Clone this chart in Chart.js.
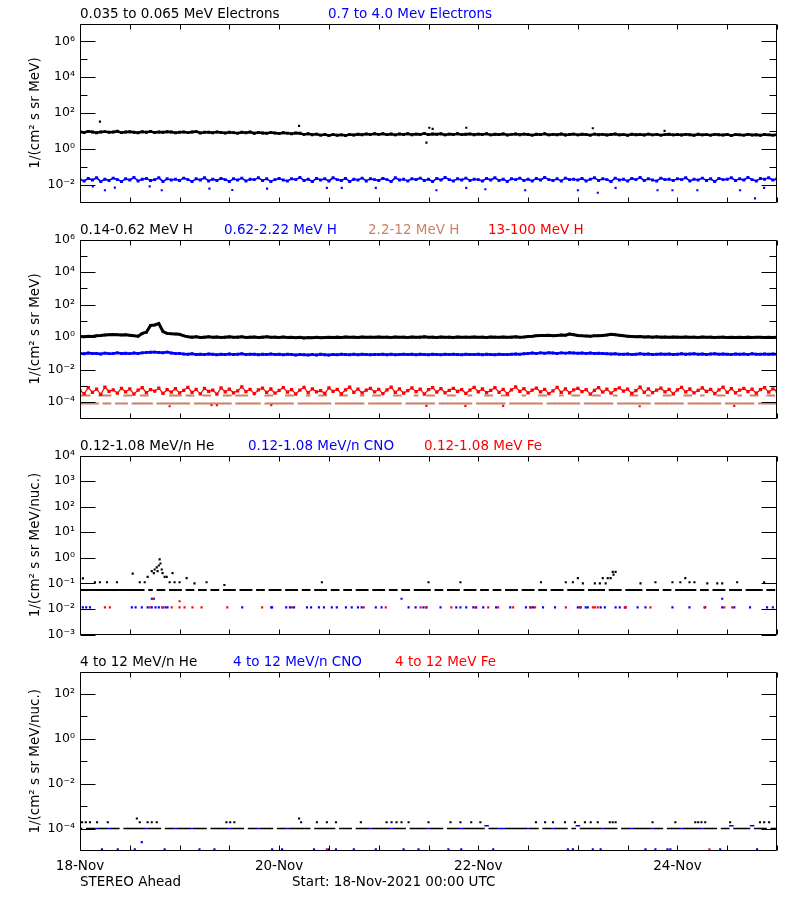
<!DOCTYPE html>
<html><head><meta charset="utf-8">
<script src="https://cdn.jsdelivr.net/npm/chart.js@4.4.0/dist/chart.umd.min.js"></script>
<style>
html,body{margin:0;padding:0;background:#fff;}
body{width:800px;height:900px;position:relative;overflow:hidden;font-family:"DejaVu Sans",sans-serif;}
canvas{position:absolute;left:0;}
.t{position:absolute;font-size:13.5px;line-height:16px;white-space:pre;color:#000;}
</style></head><body>
<canvas id="c1" width="800" height="204" style="top:11px"></canvas>
<canvas id="c2" width="800" height="204" style="top:227px"></canvas>
<canvas id="c3" width="800" height="204" style="top:443px"></canvas>
<canvas id="c4" width="800" height="222" style="top:659px"></canvas>

<div class="t" style="left:80px;top:5px">0.035 to 0.065 MeV Electrons</div>
<div class="t" style="left:328px;top:5px;color:#0000ff">0.7 to 4.0 Mev Electrons</div>
<div class="t" style="left:80px;top:221px">0.14-0.62 MeV H</div>
<div class="t" style="left:224px;top:221px;color:#0000ff">0.62-2.22 MeV H</div>
<div class="t" style="left:368px;top:221px;color:#cc8268">2.2-12 MeV H</div>
<div class="t" style="left:488px;top:221px;color:#ff0000">13-100 MeV H</div>
<div class="t" style="left:80px;top:437px">0.12-1.08 MeV/n He</div>
<div class="t" style="left:248px;top:437px;color:#0000ff">0.12-1.08 MeV/n CNO</div>
<div class="t" style="left:424px;top:437px;color:#ff0000">0.12-1.08 MeV Fe</div>
<div class="t" style="left:80px;top:653px">4 to 12 MeV/n He</div>
<div class="t" style="left:233px;top:653px;color:#0000ff">4 to 12 MeV/n CNO</div>
<div class="t" style="left:395px;top:653px;color:#ff0000">4 to 12 MeV Fe</div>
<div class="t" style="left:80px;top:873px">STEREO Ahead</div>
<div class="t" style="left:292px;top:873px">Start: 18-Nov-2021 00:00 UTC</div>

<script>
const n = null;
// x axis: hours since 18-Nov-2021 00:00 UTC
const xTickHours = [0, 48, 96, 144];
const xTickLabels = ['18-Nov', '20-Nov', '22-Nov', '24-Nov'];

// ---------- Panel 1: electrons (hourly, h = 0..168) ----------
const elecLow = [
8.9,8.2,9.4,8.6,7.9,8.8,9.1,8.3,8.7,9.5,8.0,8.6,9.0,8.4,7.8,8.9,8.5,9.2,8.1,8.7,8.3,9.0,8.6,7.9,
8.4,8.8,8.0,8.6,9.1,7.7,8.3,8.5,7.9,8.8,8.2,7.6,8.4,8.0,7.5,8.3,7.8,8.6,7.4,8.1,7.7,7.3,8.2,7.6,
7.2,7.9,7.5,6.9,7.7,7.3,6.4,6.9,6.1,6.6,5.8,6.3,5.6,6.2,5.7,6.0,5.5,6.3,5.9,6.5,6.1,6.8,6.3,6.9,
6.4,7.0,6.2,6.7,6.0,6.8,6.3,6.9,6.1,6.6,6.4,7.1,6.2,6.7,6.5,6.9,6.0,6.6,6.3,7.0,6.2,6.5,6.8,6.1,
6.6,6.3,6.9,6.0,6.5,6.2,6.8,5.9,6.4,6.7,6.1,6.6,6.3,5.8,6.5,6.2,6.9,6.0,6.4,6.1,6.7,5.9,6.3,6.6,
6.0,6.5,6.2,5.8,6.6,6.1,6.4,5.9,6.3,6.7,6.0,6.2,5.7,6.5,6.1,6.3,5.9,6.6,6.0,6.4,5.8,6.2,6.5,6.0,
6.3,5.9,6.4,6.1,5.7,6.5,6.0,6.2,5.8,6.4,6.1,5.9,6.3,5.6,6.2,6.0,5.8,6.4,5.9,6.1,5.7,6.3,6.0,5.8,6.2];
const elecLowOutHours = [4.8, 52.8, 83.5, 84.2, 85.0, 93.1, 123.6, 140.9];
const elecLowOutVals  = [33, 19, 2.2, 15, 13, 15, 14, 10];

const elecHigh = [
.019,.016,.022,.018,.024,.015,.020,.017,.023,.019,.015,.021,.018,.025,.016,.020,.022,.017,.019,.024,.015,.021,.018,.020,
.017,.023,.019,.015,.021,.018,.024,.016,.020,.017,.022,.019,.015,.021,.018,.023,.016,.020,.019,.024,.017,.021,.015,.019,
.022,.018,.016,.021,.019,.025,.017,.020,.015,.022,.018,.021,.016,.024,.019,.017,.022,.015,.020,.018,.023,.016,.021,.019,
.017,.022,.019,.015,.024,.018,.020,.016,.021,.019,.023,.017,.020,.015,.022,.018,.025,.019,.016,.021,.018,.023,.017,.020,
.019,.016,.022,.018,.024,.017,.020,.015,.021,.019,.023,.017,.020,.016,.022,.018,.025,.019,.017,.021,.016,.023,.019,.020,
.018,.022,.016,.020,.024,.017,.021,.019,.015,.023,.018,.020,.016,.022,.019,.025,.017,.021,.018,.016,.023,.019,.020,.017,
.021,.019,.024,.016,.020,.018,.023,.017,.021,.015,.022,.019,.020,.024,.017,.021,.018,.025,.019,.016,.022,.020,.024,.018,.021];
const elecHighOutHours = [3.1,6.0,8.4,16.8,19.7,31.2,36.7,45.1,59.5,63.1,71.3,85.9,93.1,97.7,107.3,120.0,124.8,129.1,139.2,142.8,148.8,159.1,162.7,164.9];
const elecHighOutVals  = [0.0079,0.0048,0.0068,0.0079,0.0048,0.006,0.005,0.006,0.0066,0.0066,0.0066,0.0048,0.0066,0.0055,0.0048,0.0048,0.0035,0.0066,0.0048,0.0048,0.0048,0.0048,0.0017,0.0066];

// ---------- Panel 2: protons ----------
const protLow = [
1.1,1.05,1.15,1.1,1.2,1.25,1.35,1.4,1.45,1.4,1.35,1.4,1.3,1.2,1.15,1.7,2.0,5.2,5.6,6.8,2.2,1.7,1.6,1.55,
1.5,1.2,1.05,1.0,1.05,0.95,1.0,1.05,0.98,1.02,0.95,1.0,1.04,0.97,1.0,1.05,0.96,1.0,1.03,0.95,1.0,1.06,0.98,1.0,
0.96,1.02,0.94,0.98,0.92,0.97,0.9,0.95,0.93,0.98,0.91,0.96,0.99,0.94,1.0,0.96,1.02,0.97,1.0,0.95,1.03,0.98,1.0,0.97,
1.02,0.98,1.0,0.96,1.03,0.99,1.0,0.95,1.02,0.98,1.0,1.04,0.97,1.0,0.96,1.02,0.99,1.0,0.95,1.03,0.98,1.0,0.97,1.02,
0.99,1.0,0.96,1.03,1.0,0.98,1.02,0.97,1.0,1.04,0.99,1.02,1.08,1.12,1.2,1.28,1.25,1.3,1.22,1.28,1.35,1.3,1.55,1.4,
1.25,1.2,1.18,1.15,1.2,1.22,1.28,1.35,1.5,1.42,1.3,1.2,1.15,1.1,1.05,1.08,1.02,1.05,1.0,1.04,1.0,1.03,0.98,1.02,
1.0,0.97,1.02,0.98,1.0,0.96,1.01,0.97,1.0,0.95,0.98,1.0,0.96,0.99,0.95,0.98,0.96,1.0,0.95,0.97,0.99,0.95,0.97,0.96,0.98];
const protMid = [
.10,.095,.105,.098,.10,.092,.104,.097,.10,.108,.099,.103,.097,.105,.10,.108,.112,.118,.12,.115,.11,.12,.105,.10,
.098,.092,.088,.094,.086,.09,.085,.093,.088,.084,.09,.087,.092,.085,.089,.094,.086,.09,.088,.083,.09,.087,.092,.086,
.088,.082,.09,.085,.08,.087,.083,.079,.086,.081,.088,.084,.08,.086,.082,.089,.085,.083,.088,.084,.09,.086,.083,.087,
.085,.09,.084,.088,.082,.087,.09,.085,.088,.083,.089,.086,.084,.09,.087,.083,.088,.085,.09,.086,.084,.089,.087,.085,
.088,.084,.09,.086,.083,.089,.087,.085,.09,.093,.088,.096,.1,.105,.098,.108,.103,.11,.105,.1,.108,.104,.11,.106,
.102,.107,.1,.105,.098,.103,.1,.096,.092,.095,.09,.088,.092,.087,.09,.094,.088,.091,.086,.09,.093,.088,.092,.087,
.09,.094,.088,.092,.095,.089,.093,.087,.091,.094,.088,.092,.09,.086,.093,.089,.091,.087,.094,.09,.088,.092,.089,.091,.088];
const protHigh = [
5.2e-4,3.4e-4,7.8e-4,4.1e-4,6.3e-4,3.0e-4,8.5e-4,4.6e-4,5.8e-4,3.6e-4,7.1e-4,4.4e-4,6.6e-4,3.2e-4,5.5e-4,8.0e-4,3.9e-4,6.0e-4,4.8e-4,7.4e-4,3.5e-4,5.9e-4,4.2e-4,6.8e-4,
3.7e-4,5.4e-4,8.3e-4,4.0e-4,6.1e-4,3.3e-4,7.0e-4,4.7e-4,5.6e-4,3.1e-4,7.7e-4,4.3e-4,6.4e-4,3.8e-4,5.0e-4,8.8e-4,4.5e-4,6.2e-4,3.4e-4,5.7e-4,7.3e-4,4.0e-4,6.5e-4,3.6e-4,
5.3e-4,7.9e-4,4.2e-4,6.0e-4,3.2e-4,5.6e-4,8.1e-4,3.9e-4,6.7e-4,4.4e-4,5.1e-4,3.5e-4,7.5e-4,4.6e-4,6.2e-4,3.3e-4,5.8e-4,8.4e-4,4.1e-4,6.4e-4,3.7e-4,5.5e-4,7.2e-4,4.3e-4,
6.1e-4,3.4e-4,5.7e-4,8.6e-4,4.0e-4,6.6e-4,3.6e-4,5.2e-4,7.6e-4,4.5e-4,6.3e-4,3.2e-4,5.9e-4,8.0e-4,4.2e-4,6.8e-4,3.8e-4,5.4e-4,7.1e-4,4.7e-4,6.0e-4,3.5e-4,5.6e-4,8.2e-4,
4.4e-4,6.5e-4,3.9e-4,5.3e-4,7.8e-4,4.1e-4,6.2e-4,3.3e-4,5.8e-4,8.7e-4,4.6e-4,6.9e-4,3.7e-4,5.5e-4,7.4e-4,4.3e-4,6.1e-4,3.4e-4,5.0e-4,8.3e-4,4.0e-4,6.6e-4,3.8e-4,5.7e-4,
7.2e-4,4.5e-4,6.0e-4,3.1e-4,5.4e-4,8.0e-4,4.2e-4,6.4e-4,3.6e-4,5.9e-4,7.7e-4,4.8e-4,6.3e-4,3.5e-4,5.2e-4,8.5e-4,4.1e-4,6.7e-4,3.9e-4,5.6e-4,7.3e-4,4.4e-4,6.1e-4,3.3e-4,
5.8e-4,8.1e-4,4.3e-4,6.5e-4,3.7e-4,5.3e-4,7.5e-4,4.6e-4,6.2e-4,3.4e-4,5.7e-4,8.4e-4,4.0e-4,6.8e-4,3.8e-4,5.5e-4,7.0e-4,4.5e-4,6.3e-4,3.6e-4,5.9e-4,7.9e-4,4.2e-4,6.6e-4,5.0e-4];
const protHighOutHours = [21.6, 31.7, 33.0, 46.1, 83.5, 92.9, 102.0, 134.9, 157.7];
const protHighOutVals  = [5.7e-5, 6.5e-5, 6.5e-5, 6.5e-5, 6.0e-5, 6.0e-5, 6.0e-5, 5.7e-5, 6.0e-5];
const protTanLow = [
8.3e-5,8.3e-5,8.3e-5,8.3e-5,8.3e-5,n,8.3e-5,8.3e-5,n,8.3e-5,8.3e-5,8.3e-5,n,8.3e-5,8.3e-5,8.3e-5,8.3e-5,8.3e-5,n,8.3e-5,8.3e-5,8.3e-5,8.3e-5,8.3e-5,
8.3e-5,8.3e-5,8.3e-5,n,8.3e-5,8.3e-5,8.3e-5,8.3e-5,8.3e-5,8.3e-5,8.3e-5,8.3e-5,8.3e-5,n,8.3e-5,8.3e-5,8.3e-5,8.3e-5,8.3e-5,8.3e-5,n,8.3e-5,8.3e-5,8.3e-5,
8.3e-5,8.3e-5,8.3e-5,8.3e-5,n,8.3e-5,8.3e-5,8.3e-5,8.3e-5,8.3e-5,8.3e-5,8.3e-5,8.3e-5,n,8.3e-5,8.3e-5,8.3e-5,8.3e-5,8.3e-5,8.3e-5,8.3e-5,n,8.3e-5,8.3e-5,
8.3e-5,8.3e-5,8.3e-5,8.3e-5,8.3e-5,8.3e-5,n,8.3e-5,8.3e-5,8.3e-5,8.3e-5,8.3e-5,8.3e-5,8.3e-5,n,8.3e-5,8.3e-5,8.3e-5,8.3e-5,8.3e-5,8.3e-5,8.3e-5,8.3e-5,n,
8.3e-5,8.3e-5,8.3e-5,8.3e-5,8.3e-5,8.3e-5,8.3e-5,n,8.3e-5,8.3e-5,8.3e-5,8.3e-5,8.3e-5,8.3e-5,8.3e-5,8.3e-5,n,8.3e-5,8.3e-5,8.3e-5,8.3e-5,8.3e-5,8.3e-5,8.3e-5,
8.3e-5,n,8.3e-5,8.3e-5,8.3e-5,8.3e-5,8.3e-5,8.3e-5,8.3e-5,n,8.3e-5,8.3e-5,8.3e-5,8.3e-5,8.3e-5,8.3e-5,8.3e-5,8.3e-5,n,8.3e-5,8.3e-5,8.3e-5,8.3e-5,8.3e-5,
8.3e-5,8.3e-5,n,8.3e-5,8.3e-5,8.3e-5,8.3e-5,8.3e-5,8.3e-5,8.3e-5,8.3e-5,n,8.3e-5,8.3e-5,8.3e-5,8.3e-5,8.3e-5,8.3e-5,8.3e-5,n,8.3e-5,8.3e-5,8.3e-5,8.3e-5,8.3e-5];
const protTanHighHours = [0,1,2,5,6,7,11,12,15,16,22,23,24,26,27,30,31,35,36,38,39,40,45,46,50,51,55,58,59,63,64,68,71,72,76,77,81,84,85,89,90,94,98,99,102,103,107,111,112,116,119,120,124,125,129,133,134,137,141,142,146,147,150,154,155,159,162,163,166,167];
const protTanHighVals = [2.6e-4,2.6e-4,2.6e-4,2.6e-4,2.6e-4,2.6e-4,2.6e-4,2.6e-4,2.6e-4,2.6e-4,2.6e-4,2.6e-4,2.6e-4,2.6e-4,2.6e-4,2.6e-4,2.6e-4,2.6e-4,2.6e-4,2.6e-4,2.6e-4,2.6e-4,2.6e-4,2.6e-4,2.6e-4,2.6e-4,2.6e-4,2.6e-4,2.6e-4,2.6e-4,2.6e-4,2.6e-4,2.6e-4,2.6e-4,2.6e-4,2.6e-4,2.6e-4,2.6e-4,2.6e-4,2.6e-4,2.6e-4,2.6e-4,2.6e-4,2.6e-4,2.6e-4,2.6e-4,2.6e-4,2.6e-4,2.6e-4,2.6e-4,2.6e-4,2.6e-4,2.6e-4,2.6e-4,2.6e-4,2.6e-4,2.6e-4,2.6e-4,2.6e-4,2.6e-4,2.6e-4,2.6e-4,2.6e-4,2.6e-4,2.6e-4,2.6e-4,2.6e-4,2.6e-4,2.6e-4,2.6e-4];

// ---------- Panel 3: 0.12-1.08 MeV/n ----------
const heBase = [
.055,.055,.055,.055,.055,.055,.055,.055,.055,.055,.055,.055,.055,.055,.055,.055,n,.055,n,.055,.055,n,.055,.055,
.055,n,.055,.055,n,.055,.055,n,.055,.055,n,.055,.055,.055,n,.055,.055,.055,n,.055,.055,n,.055,.055,
.055,n,.055,.055,.055,n,.055,.055,n,.055,.055,.055,n,.055,.055,n,.055,.055,n,.055,.055,.055,n,.055,
.055,.055,n,.055,.055,n,.055,.055,n,.055,.055,.055,.055,n,.055,.055,n,.055,.055,.055,n,.055,.055,.055,
n,.055,.055,n,.055,.055,n,.055,.055,.055,n,.055,.055,.055,n,.055,.055,n,.055,.055,.055,n,.055,.055,
.055,.055,n,.055,.055,.055,.055,n,.055,.055,.055,n,.055,.055,.055,.055,n,.055,.055,.055,n,.055,.055,n,
.055,.055,.055,.055,.055,n,.055,.055,n,.055,.055,.055,n,.055,.055,.055,n,.055,.055,.055,.055,n,.055,.055,n];
const heHours = [0.7,3.6,4.8,6.5,8.9,12.7,14.4,15.6,16.3,17.3,17.8,18.0,18.5,18.7,19.0,19.2,19.4,19.7,19.9,20.4,20.9,21.6,22.3,22.8,24.0,25.7,27.6,30.5,34.8,58.3,84.0,91.7,111.1,117.1,118.8,120.0,121.2,124.1,125.3,126.0,126.7,127.2,127.9,128.4,128.6,129.1,135.1,138.7,142.8,144.7,145.9,146.9,148.1,151.2,153.6,154.8,158.4,164.9];
const heVals  = [0.157,0.11,0.11,0.11,0.11,0.24,0.11,0.11,0.18,0.3,0.25,0.35,0.42,0.3,0.5,0.87,0.6,0.35,0.25,0.18,0.18,0.11,0.25,0.11,0.11,0.16,0.1,0.11,0.086,0.11,0.11,0.11,0.11,0.11,0.11,0.16,0.1,0.1,0.1,0.16,0.1,0.16,0.16,0.28,0.22,0.28,0.1,0.11,0.11,0.11,0.16,0.11,0.11,0.1,0.1,0.1,0.11,0.11];
const cnoHours = [0,0.7,1.5,2.4,12.5,13.4,14.9,16.3,17.3,18.2,19.0,19.9,20.6,21.1,39.1,46.1,46.3,49.7,50.6,51.6,54.7,55.7,57.6,58.8,60.7,61.9,64.1,65.5,67.0,67.9,71.3,72.7,79.2,80.9,82.8,83.5,86.9,90.7,91.7,93.1,94.8,95.5,97.2,100.3,103.7,107.5,108.5,109.2,111.6,114.5,120.0,120.7,121.9,122.4,125.5,126.5,129.1,130.1,131.5,134.4,136.3,142.8,146.9,150.7,154.8,157.7,161.5,165.6,167.0,17.3,17.8,77.5,154.8];
const cnoVals  = [.0115,.0115,.0115,.0115,.0115,.0115,.0115,.0115,.0115,.0115,.0115,.0115,.0115,.0115,.0115,.0115,.0115,.0115,.0115,.0115,.0115,.0115,.0115,.0115,.0115,.0115,.0115,.0115,.0115,.0115,.0115,.0115,.0115,.0115,.0115,.0115,.0115,.0115,.0115,.0115,.0115,.0115,.0115,.0115,.0115,.0115,.0115,.0115,.0115,.0115,.0115,.0115,.0115,.0115,.0115,.0115,.0115,.0115,.0115,.0115,.0115,.0115,.0115,.0115,.0115,.0115,.0115,.0115,.0115,.025,.025,.025,.025];
const feHours = [6.0,7.2,16.8,19.9,22.1,24.0,25.2,27.1,29.3,35.5,43.9,51.1,68.4,73.7,82.1,83.5,89.5,95.3,98.4,100.8,104.4,108.7,109.7,117.1,120.5,123.6,124.1,124.8,131.3,131.5,137.5,150.5,155.3,157.2,17.5,24.0];
const feVals  = [.0115,.0115,.0115,.0115,.0115,.0115,.0115,.0115,.0115,.0115,.0115,.0115,.0115,.0115,.0115,.0115,.0115,.0115,.0115,.0115,.0115,.0115,.0115,.0115,.0115,.0115,.0115,.0115,.0115,.0115,.0115,.0115,.0115,.0115,.025,.02];

// ---------- Panel 4: 4 to 12 MeV/n ----------
const he4Base = [
1e-4,n,1e-4,1e-4,n,1e-4,1e-4,n,1e-4,1e-4,n,1e-4,1e-4,1e-4,1e-4,1e-4,n,1e-4,1e-4,1e-4,n,1e-4,1e-4,n,
1e-4,1e-4,1e-4,n,1e-4,1e-4,1e-4,n,1e-4,1e-4,1e-4,1e-4,n,1e-4,1e-4,1e-4,n,1e-4,1e-4,n,1e-4,1e-4,1e-4,n,
1e-4,1e-4,n,1e-4,1e-4,1e-4,1e-4,1e-4,n,1e-4,1e-4,1e-4,1e-4,1e-4,n,1e-4,1e-4,1e-4,n,1e-4,1e-4,1e-4,n,1e-4,
1e-4,1e-4,1e-4,n,1e-4,1e-4,1e-4,n,1e-4,1e-4,1e-4,1e-4,n,1e-4,1e-4,1e-4,n,1e-4,1e-4,1e-4,n,1e-4,1e-4,1e-4,
1e-4,1e-4,n,1e-4,1e-4,n,n,1e-4,1e-4,1e-4,1e-4,1e-4,n,1e-4,1e-4,n,1e-4,1e-4,n,1e-4,1e-4,1e-4,n,1e-4,
n,1e-4,1e-4,1e-4,1e-4,1e-4,n,1e-4,1e-4,1e-4,n,1e-4,1e-4,n,1e-4,1e-4,1e-4,1e-4,n,1e-4,1e-4,n,1e-4,1e-4,
1e-4,n,1e-4,1e-4,1e-4,1e-4,n,1e-4,1e-4,1e-4,n,1e-4,1e-4,n,1e-4,1e-4,1e-4,1e-4,n,1e-4,1e-4,1e-4,n,1e-4,1e-4];
const he4Hours = [0.5,1.4,2.4,4.1,6.7,13.7,14.4,16.3,17.3,18.5,35.3,36.2,37.2,52.8,53.3,57.1,59.5,61.7,67.7,73.9,75.1,76.3,77.5,79.2,84.0,89.3,91.7,94.3,96.5,109.9,112.1,114.0,116.9,119.3,121.7,123.1,124.8,127.7,128.4,129.1,138.0,143.5,148.3,149.0,149.8,150.7,156.7,163.9,164.9,166.1];
const he4Vals  = [1.9e-4,1.9e-4,1.9e-4,1.9e-4,1.9e-4,2.8e-4,1.9e-4,1.9e-4,1.9e-4,1.9e-4,1.9e-4,1.9e-4,1.9e-4,2.8e-4,1.9e-4,1.9e-4,1.9e-4,1.9e-4,1.9e-4,1.9e-4,1.9e-4,1.9e-4,1.9e-4,1.9e-4,1.9e-4,1.9e-4,1.9e-4,1.9e-4,1.9e-4,1.9e-4,1.9e-4,1.9e-4,1.9e-4,1.9e-4,1.9e-4,1.9e-4,1.9e-4,1.9e-4,1.9e-4,1.9e-4,1.9e-4,1.9e-4,1.9e-4,1.9e-4,1.9e-4,1.9e-4,1.9e-4,1.9e-4,1.9e-4,1.9e-4];
const cno4BaseHours = [4,7,16,23,27,36,43,50,70,75,84,92,101,102,108,114,126,133,138,145,150,98,120,157,162];
const cno4BaseVals  = [1e-4,1e-4,1e-4,1e-4,1e-4,1e-4,1e-4,1e-4,1e-4,1e-4,1e-4,1e-4,1e-4,1e-4,1e-4,1e-4,1e-4,1e-4,1e-4,1e-4,1e-4,1.35e-4,1.35e-4,1.35e-4,1.35e-4];
const cno4Hours = [5.3,9.1,13.2,20.4,28.8,32.4,46.3,48.7,56.4,60.0,61.7,66.0,71.3,78.0,81.6,88.8,91.9,99.6,117.6,118.8,123.6,125.5,136.3,138.7,141.6,142.3,154.3,163.2,14.9];
const cno4Vals  = [1.2e-5,1.2e-5,1.2e-5,1.2e-5,1.2e-5,1.2e-5,1.2e-5,1.2e-5,1.2e-5,1.2e-5,1.2e-5,1.2e-5,1.2e-5,1.2e-5,1.2e-5,1.2e-5,1.2e-5,1.2e-5,1.2e-5,1.2e-5,1.2e-5,1.2e-5,1.2e-5,1.2e-5,1.2e-5,1.2e-5,1.2e-5,1.2e-5,2.5e-5];
const fe4Hours = [59.5, 151.7];
const fe4Vals  = [1.2e-5, 1.2e-5];

// ---------- helpers ----------
const BLACK = '#000000', BLUE = '#0000ff', RED = '#ff0000', TAN = '#cc8268';
const SUP = {'-':'\u207B','0':'\u2070','1':'\u00B9','2':'\u00B2','3':'\u00B3','4':'\u2074','5':'\u2075','6':'\u2076','7':'\u2077','8':'\u2078','9':'\u2079'};
const sup = e => String(e).split('').map(c => SUP[c]).join('');
const hourly = vals => vals.map((v, i) => ({x: i, y: v}));
const pairs = (hs, vs) => hs.map((h, i) => ({x: h, y: vs[i]}));
function band(data, color, lw, pr) {
  return {data, showLine: true, borderColor: color, borderWidth: lw, tension: 0,
    pointStyle: 'rect', pointRadius: pr || 1.8, pointBackgroundColor: color, pointBorderWidth: 0};
}
function dots(data, color, r) {
  return {data, showLine: false, pointStyle: 'rect', pointRadius: r || 1.5,
    pointBackgroundColor: color, pointBorderWidth: 0};
}
function dashes(data, color, w) {
  return {data, showLine: false, pointStyle: 'line', pointRadius: 2.3,
    pointBorderColor: color, pointBackgroundColor: color, pointBorderWidth: w || 2};
}

const framePlugin = {
  id: 'frame',
  afterDatasetsDraw(chart, args, opts) {
    const {ctx, chartArea: a, scales: {x, y}} = chart;
    ctx.save();
    ctx.strokeStyle = '#000'; ctx.lineWidth = 1;
    const L = Math.round(a.left) + 0.5, R = Math.round(a.right) - 0.5;
    const T = Math.round(a.top) + 0.5, B = Math.round(a.bottom) - 0.5;
    ctx.beginPath();
    ctx.rect(L, T, R - L, B - T);
    x.ticks.forEach(t => {
      const px = Math.round(x.getPixelForValue(t.value)) + 0.5;
      ctx.moveTo(px, B); ctx.lineTo(px, B - 5);
      ctx.moveTo(px, T); ctx.lineTo(px, T + 5);
    });
    const yt = (e, len) => {
      const py = Math.round(y.getPixelForValue(Math.pow(10, e))) + 0.5;
      ctx.moveTo(L, py); ctx.lineTo(L + len, py);
      ctx.moveTo(R, py); ctx.lineTo(R - len, py);
    };
    opts.major.forEach(e => yt(e, 15));
    opts.minor.forEach(e => yt(e, 7));
    ctx.stroke();
    ctx.restore();
  }
};

function makeChart(id, datasets, yMin, yMax, major, minor, yTitle, showX) {
  return new Chart(document.getElementById(id), {
    type: 'scatter',
    data: {datasets},
    options: {
      responsive: false, animation: false, devicePixelRatio: 1, events: [],
      layout: {padding: {top: 12, right: 23, left: 0, bottom: showX ? 0 : 10}},
      plugins: {legend: {display: false}, tooltip: {enabled: false}, frame: {major, minor}},
      scales: {
        x: {type: 'linear', min: 0, max: 168,
          grid: {display: false, drawTicks: false}, border: {display: false},
          ticks: {display: showX, stepSize: 12, autoSkip: false, maxRotation: 0, padding: 7,
            color: '#000', font: {family: 'DejaVu Sans', size: 13.5},
            callback: v => { const k = xTickHours.indexOf(v); return k >= 0 ? xTickLabels[k] : ''; }},
          afterFit: s => { s.height = showX ? 30 : 2; }},
        y: {type: 'logarithmic', min: yMin, max: yMax,
          grid: {display: false, drawTicks: false}, border: {display: false},
          afterBuildTicks: s => { s.ticks = major.map(e => ({value: Math.pow(10, e)})); },
          ticks: {padding: 5, color: '#000', autoSkip: false, font: {family: 'DejaVu Sans', size: 12.5},
            callback: v => '10' + sup(Math.round(Math.log10(v)))},
          title: {display: true, text: yTitle, color: '#000', font: {family: 'DejaVu Sans', size: 13.5},
            padding: {top: 27, bottom: 0}},
          afterFit: s => { s.width = 80; }}
      }
    },
    plugins: [framePlugin]
  });
}

makeChart('c1', [
  band(hourly(elecLow), BLACK, 2.5, 2.1),
  dots(pairs(elecLowOutHours, elecLowOutVals), BLACK),
  band(hourly(elecHigh), BLUE, 1.6, 2.1),
  dots(pairs(elecHighOutHours, elecHighOutVals), BLUE)
], 1e-3, 1e7, [-2, 0, 2, 4, 6], [-1, 1, 3, 5], '1/(cm\u00B2 s sr MeV)', false);

makeChart('c2', [
  band(hourly(protLow), BLACK, 3, 1.8),
  band(hourly(protMid), BLUE, 2.5, 2.1),
  band(hourly(protHigh), RED, 1.2, 2.3),
  dots(pairs(protHighOutHours, protHighOutVals), RED),
  dashes(pairs(protTanHighHours, protTanHighVals), TAN, 2),
  dashes(hourly(protTanLow), TAN, 2)
], 1e-5, 1e6, [-4, -2, 0, 2, 4, 6], [-3, -1, 1, 3, 5], '1/(cm\u00B2 s sr MeV)', false);

makeChart('c3', [
  dots(pairs(heHours, heVals), BLACK),
  dashes(hourly(heBase), BLACK, 2),
  dots(pairs(feHours, feVals), RED),
  dots(pairs(cnoHours, cnoVals), BLUE)
], 1e-3, 1e4, [-3, -2, -1, 0, 1, 2, 3, 4], [], '1/(cm\u00B2 s sr MeV/nuc.)', false);

makeChart('c4', [
  dots(pairs(he4Hours, he4Vals), BLACK),
  dashes(hourly(he4Base), BLACK, 1.5),
  dashes(pairs(cno4BaseHours, cno4BaseVals), BLUE, 1.5),
  dots(pairs(fe4Hours, fe4Vals), RED),
  dots(pairs(cno4Hours, cno4Vals), BLUE)
], 1e-5, 1e3, [-4, -2, 0, 2], [-3, -1, 1], '1/(cm\u00B2 s sr MeV/nuc.)', true);
</script>
</body></html>
